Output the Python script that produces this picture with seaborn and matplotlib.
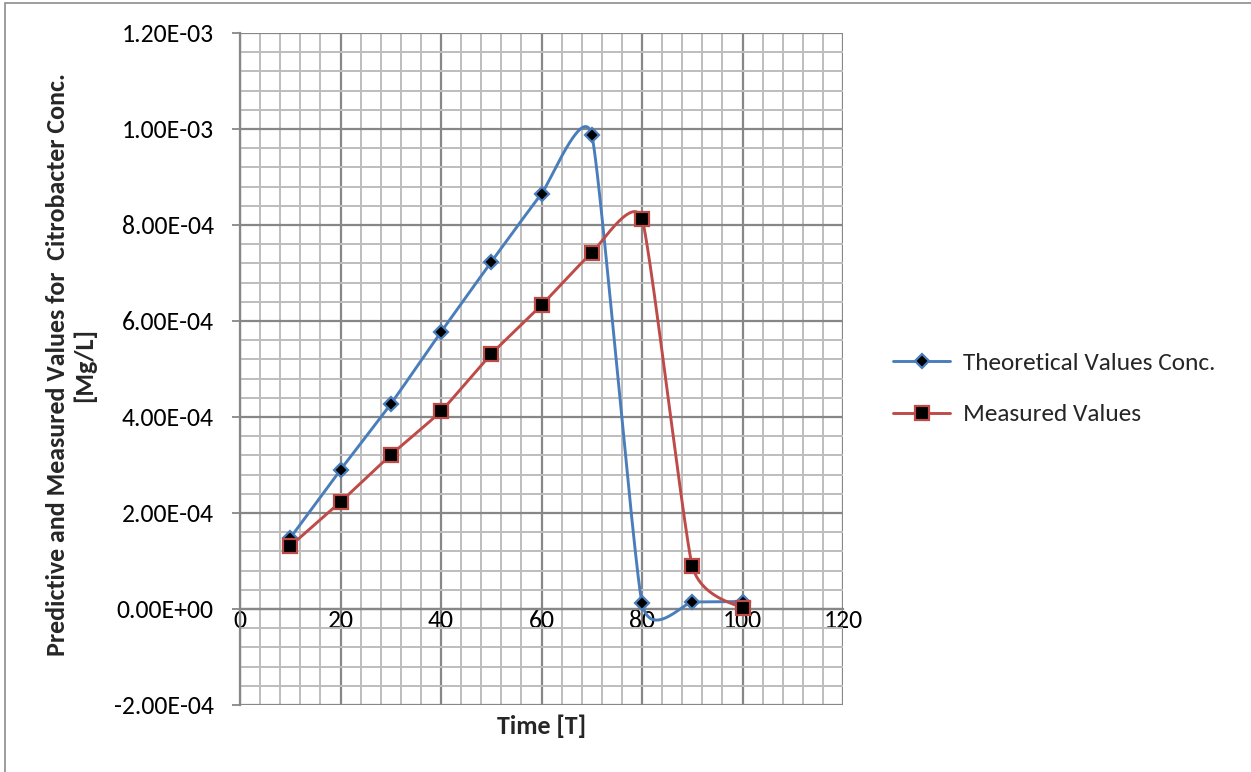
import numpy as np
import matplotlib
matplotlib.use("Agg")
import matplotlib.pyplot as plt
from matplotlib import font_manager as fm
from matplotlib.lines import Line2D
from matplotlib.patches import Rectangle
from matplotlib.ticker import MultipleLocator, FuncFormatter
import seaborn as sns

# ---- data ----
time = [10, 20, 30, 40, 50, 60, 70, 80, 90, 100]
theoretical = [1.48e-4, 2.90e-4, 4.27e-4, 5.77e-4, 7.23e-4, 8.65e-4, 9.88e-4, 1.25e-5, 1.46e-5, 1.55e-5]
measured = [1.31e-4, 2.23e-4, 3.21e-4, 4.12e-4, 5.31e-4, 6.33e-4, 7.42e-4, 8.13e-4, 9.0e-5, 2.0e-6]
series_names = ["Theoretical Values Conc.", "Measured Values"]
x_ticks = [0, 20, 40, 60, 80, 100, 120]
x_label = "Time [T]"
y_label = "Predictive and Measured Values for  Citrobacter Conc.\n[Mg/L]"

BLUE = "#4A7EBB"
RED = "#BE4B48"
MAJOR = "#878787"
MINOR = "#BDBDBD"


def excel_smooth(x, y, k=1 / 12.0, n=80):
    """Smoothed line through the points: cubic Bezier with neighbour tangents."""
    p = np.column_stack([x, y]).astype(float)
    m = len(p)
    t = np.linspace(0, 1, n)[:, None]
    out = []
    for i in range(m - 1):
        p0 = p[max(i - 1, 0)]
        p1 = p[i]
        p2 = p[i + 1]
        p3 = p[min(i + 2, m - 1)]
        c1 = p1 + (p2 - p0) * k
        c2 = p2 - (p3 - p1) * k
        seg = ((1 - t) ** 3) * p1 + 3 * ((1 - t) ** 2) * t * c1 + 3 * (1 - t) * t ** 2 * c2 + t ** 3 * p2
        out.append(seg if i == 0 else seg[1:])
    seg = np.vstack(out)
    return seg[:, 0], seg[:, 1]


installed = {f.name for f in fm.fontManager.ttflist}
if "Carlito" in installed:
    BASE = "Carlito"
    TICK, LEG, XL, YL = 18.5, 18.3, 18.7, 18.7
    YFAM = "Carlito"
    YSTRETCH = "normal"
else:
    BASE = "Lato"
    TICK, LEG, XL, YL = 16.5, 16.5, 17, 16
    YFAM = "Open Sans"
    YSTRETCH = "condensed"

sns.set_theme(style="white")
plt.rcParams["font.family"] = [BASE, "DejaVu Sans"]

fig = plt.figure(figsize=(12.51, 7.72), dpi=100)
ax = fig.add_axes([240 / 1251, 1 - 705 / 772, 603 / 1251, 672 / 772])

# grid
ax.set_xlim(0, 120)
ax.set_ylim(-2e-4, 1.2e-3)
ax.xaxis.set_major_locator(MultipleLocator(20))
ax.xaxis.set_minor_locator(MultipleLocator(4))
ax.yaxis.set_major_locator(MultipleLocator(2e-4))
ax.yaxis.set_minor_locator(MultipleLocator(4e-5))
ax.grid(which="minor", color=MINOR, linewidth=1.4, zorder=0)
ax.grid(which="major", color=MAJOR, linewidth=1.6, zorder=0)
ax.set_axisbelow(True)

# smoothed lines
tx, ty = excel_smooth(time, theoretical)
mx, my = excel_smooth(time, measured)
sns.lineplot(x=tx, y=ty, sort=False, estimator=None, color=BLUE, linewidth=2.1, ax=ax, zorder=3)
sns.lineplot(x=mx, y=my, sort=False, estimator=None, color=RED, linewidth=2.1, ax=ax, zorder=3)

# markers
ax.plot(time, theoretical, linestyle="none", marker="D", markersize=7.5,
        markerfacecolor="black", markeredgecolor=BLUE, markeredgewidth=1.6, zorder=4)
ax.plot(time, measured, linestyle="none", marker="s", markersize=9.5,
        markerfacecolor="black", markeredgecolor=RED, markeredgewidth=1.6, zorder=4)

# spines
for s in ["top", "right"]:
    ax.spines[s].set_visible(False)
ax.spines["left"].set_color(MAJOR)
ax.spines["left"].set_linewidth(1.6)
ax.spines["bottom"].set_position(("data", 0))
ax.spines["bottom"].set_color(MAJOR)
ax.spines["bottom"].set_linewidth(1.6)

ax.yaxis.set_major_formatter(FuncFormatter(lambda v, p: ("%.2E" % v).replace("-0.00", "0.00")))
ax.tick_params(axis="y", which="major", direction="out", length=6, width=1.3, color=MAJOR,
               pad=13, labelsize=TICK, labelcolor="black", left=True)
ax.tick_params(axis="y", which="minor", length=0)
ax.tick_params(axis="x", which="major", length=0, pad=0, labelsize=TICK, labelcolor="black", bottom=True)
ax.tick_params(axis="x", which="minor", length=0)
ax.set_xticks(x_ticks)
ax.set_xticklabels([str(v) for v in x_ticks])
ax.set_xlabel("")
ax.set_ylabel("")

# axis titles
fig.text(541.5 / 1251, 1 - 726 / 772, x_label, ha="center", va="center",
         fontsize=XL, fontweight="bold")
fig.text(71 / 1251, 1 - 365 / 772, y_label, ha="center", va="center", rotation=90,
         fontsize=YL, fontweight="bold", linespacing=1.2, multialignment="center",
         family=[YFAM, "DejaVu Sans"], fontstretch=YSTRETCH)

# legend
handles = [
    Line2D([0], [0], color=BLUE, linewidth=2.1, marker="D", markersize=7.5,
           markerfacecolor="black", markeredgecolor=BLUE, markeredgewidth=1.6),
    Line2D([0], [0], color=RED, linewidth=2.1, marker="s", markersize=9.5,
           markerfacecolor="black", markeredgecolor=RED, markeredgewidth=1.6),
]
fig.legend(handles, series_names, loc="center left", bbox_to_anchor=(893 / 1251, 1 - 389 / 772),
           frameon=False, fontsize=LEG, handlelength=57 / (LEG * 100 / 72), handletextpad=0.5,
           labelspacing=1.15, borderpad=0, borderaxespad=0)

# chart border
fig.patches.append(Rectangle((5 / 1251, -0.1), 1.2, 1 - 3 / 772 + 0.1, transform=fig.transFigure,
                             fill=False, edgecolor="#8c8c8c", linewidth=1.2, zorder=10))

fig.savefig("out.png", dpi=100)
